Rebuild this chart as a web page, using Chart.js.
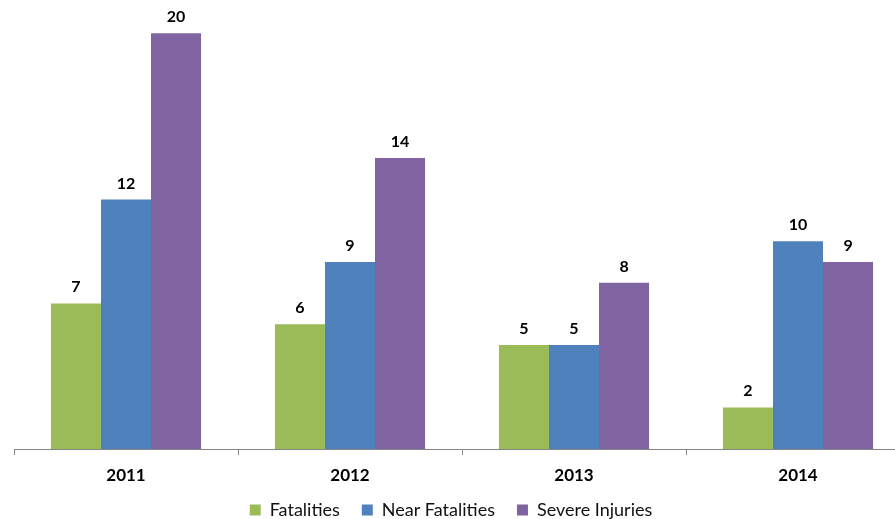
<!DOCTYPE html>
<html>
<head>
<meta charset="utf-8">
<script src="https://cdn.jsdelivr.net/npm/chart.js@4/dist/chart.umd.min.js"></script>
<style>
  html, body { margin: 0; padding: 0; background: #fff; overflow: hidden; }
  #wrap { width: 895px; height: 519px; overflow: hidden; }
  #box { width: 910px; height: 519px; }
</style>
</head>
<body>
<div id="wrap"><div id="box"><canvas id="injuryChart"></canvas></div></div>
<script>
const years = ["2011", "2012", "2013", "2014"];
const fatalities = [7, 6, 5, 2];
const nearFatalities = [12, 9, 5, 10];
const severeInjuries = [20, 14, 8, 9];

const FONT = "Lato, 'Open Sans', sans-serif";

// draws the value above each bar
const barValues = {
  id: "barValues",
  afterDatasetsDraw(chart) {
    const ctx = chart.ctx;
    ctx.save();
    ctx.font = "bold 16px " + FONT;
    ctx.fillStyle = "#000";
    ctx.textAlign = "center";
    ctx.textBaseline = "alphabetic";
    chart.data.datasets.forEach((ds, i) => {
      chart.getDatasetMeta(i).data.forEach((bar, j) => {
        ctx.fillText(ds.data[j], bar.x, bar.y - 11);
      });
    });
    ctx.restore();
  }
};

// keep the legend strip short and nudge it up/left, like the original
const legendTweak = {
  id: "legendTweak",
  beforeInit(chart) {
    const fit = chart.legend.fit;
    chart.legend.fit = function () {
      fit.call(this);
      this.height = 30;
    };
  },
  afterLayout(chart) {
    const lg = chart.legend;
    lg.top -= 10; lg.height += 10;
    lg.left -= 11; lg.right -= 11;
  }
};

const ctx = document.getElementById("injuryChart").getContext("2d");
new Chart(ctx, {
  type: "bar",
  data: {
    labels: years,
    datasets: [
      { label: "Fatalities", data: fatalities, backgroundColor: "#9BBB59" },
      { label: "Near Fatalities", data: nearFatalities, backgroundColor: "#4F81BD" },
      { label: "Severe Injuries", data: severeInjuries, backgroundColor: "#8064A2" }
    ]
  },
  options: {
    responsive: true,
    maintainAspectRatio: false,
    animation: false,
    layout: { padding: { left: 14, right: 0, top: 0, bottom: 0 } },
    datasets: { bar: { categoryPercentage: 0.67, barPercentage: 1.0 } },
    scales: {
      x: {
        grid: { display: true, drawOnChartArea: false, offset: true, tickLength: 6, color: "#868686" },
        border: { color: "#868686" },
        ticks: { color: "#000", font: { family: FONT, size: 17, weight: "bold" }, padding: 10 },
        afterFit(axis) { axis.height = 40; }
      },
      y: { display: false, min: 0, max: 21.6 }
    },
    plugins: {
      legend: {
        position: "bottom",
        labels: {
          boxWidth: 11, boxHeight: 11, padding: 22,
          color: "#111",
          font: { family: FONT, size: 18 }
        }
      },
      tooltip: { enabled: false }
    }
  },
  plugins: [barValues, legendTweak]
});
</script>
</body>
</html>
